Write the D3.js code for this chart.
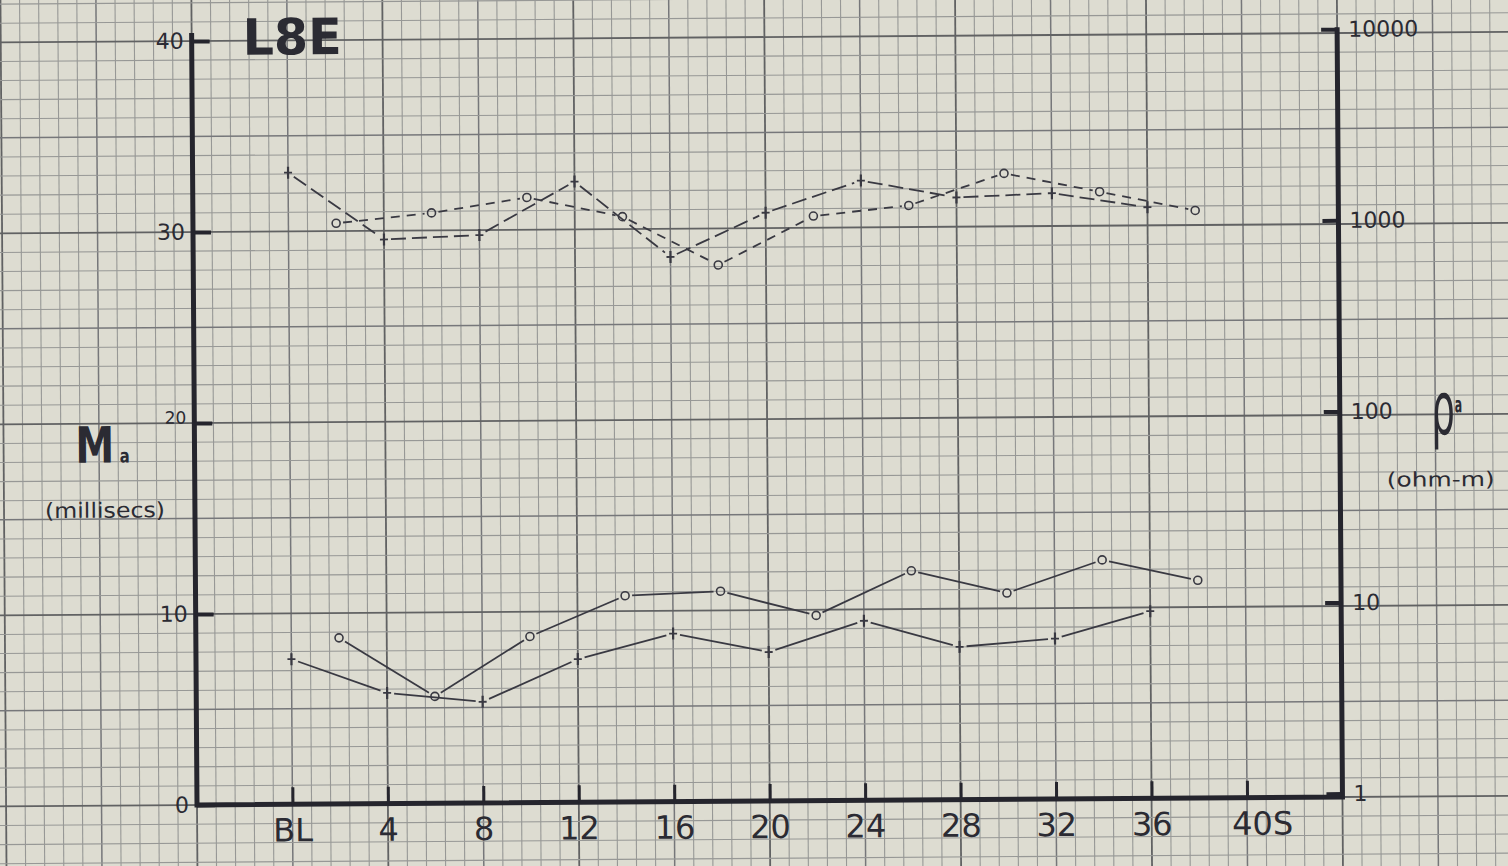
<!DOCTYPE html>
<html>
<head>
<meta charset="utf-8">
<script src="https://cdn.jsdelivr.net/npm/d3@7"></script>
<style>
  html, body { margin: 0; padding: 0; background: #dddcd1; }
  svg { display: block; }
  text { fill: #2b2b33; font-family: "DejaVu Sans", sans-serif; }
</style>
</head>
<body>
<svg id="chart" width="1508" height="866"></svg>
<script>
// Survey line L8E: apparent chargeability Ma (ms, linear, left) and
// apparent resistivity rho_a (ohm-m, log, right) along the line.
const xTickValues = [0, 4, 8, 12, 16, 20, 24, 28, 32, 36, 40];
const xTickLabels = ["BL", "4", "8", "12", "16", "20", "24", "28", "32", "36", "40S"];
const leftTicks = [0, 10, 20, 30, 40];
const rightTicks = [1, 10, 100, 1000, 10000];

// stations of the two readings ("+" and "o" symbols)
const plusStations = [0, 4, 8, 12, 16, 20, 24, 28, 32, 36];
const circleStations = [2, 6, 10, 14, 18, 22, 26, 30, 34, 38];

// apparent resistivity, ohm-m (dashed curves)
const rhoPlus = [1940, 860, 900, 1700, 680, 1150, 1680, 1360, 1420, 1190];
const rhoCircle = [1050, 1180, 1410, 1110, 615, 1100, 1240, 1810, 1440, 1140];

// apparent chargeability, ms (solid curves)
const maPlus = [7.6, 5.8, 5.3, 7.5, 8.8, 7.8, 9.4, 8.0, 8.4, 9.8];
const maCircle = [8.7, 5.6, 8.7, 10.8, 11.0, 9.7, 12.0, 10.8, 12.5, 11.4];

const svg = d3.select("#chart");
const W = 1508, H = 866;

svg.append("rect").attr("width", W).attr("height", H).attr("fill", "#dddcd1");

// the sheet sits very slightly askew
const sheet = svg.append("g").attr("transform", "rotate(-0.4,197,805)");

const x = d3.scaleLinear().domain([-4, 44]).range([197, 1342.5]);
const y = d3.scaleLinear().domain([0, 40]).range([805, 41]);
const yLog = d3.scaleLog().domain([1, 10000]).range([801.6, 37.2]);

// ---- graph paper: 1-unit squares, heavier every 5 and 10 ----
const unitX = 0.8; // one paper square in station units
const grid = sheet.append("g");
const gridColor = k => k % 10 === 0 ? "#616263" : k % 5 === 0 ? "#76777a" : "#979896";
const gridWidth = k => k % 10 === 0 ? 1.8 : k % 5 === 0 ? 1.5 : 1.1;
for (let k = -14; k <= 75; k++) {
  const xv = x(-4 + k * unitX);
  grid.append("line")
    .attr("x1", xv).attr("x2", xv).attr("y1", -60).attr("y2", H + 60)
    .attr("stroke", gridColor(k)).attr("stroke-width", gridWidth(k));
}
for (let k = -8; k <= 48; k++) {
  const yv = y(k);
  grid.append("line")
    .attr("x1", -60).attr("x2", W + 60).attr("y1", yv).attr("y2", yv)
    .attr("stroke", gridColor(k)).attr("stroke-width", gridWidth(k));
}

// ---- frame ----
sheet.append("path")
  .attr("d", `M${x(-4)},${y(40) - 8} L${x(-4)},${y(0)} L${x(44)},${y(0)} L${x(44)},${yLog(10000) - 2}`)
  .attr("fill", "none").attr("stroke", "#25252d").attr("stroke-width", 5)
  .attr("stroke-linejoin", "miter");

// left axis (Ma)
const axL = sheet.append("g").attr("transform", `translate(${x(-4)},0)`)
  .call(d3.axisLeft(y).tickValues(leftTicks).tickSize(-18).tickSizeOuter(0).tickPadding(8));
axL.select(".domain").remove();
axL.selectAll(".tick line").attr("stroke", "#25252d").attr("stroke-width", 4);
axL.selectAll(".tick text").attr("font-size", d => d === 20 ? 17 : 22)
  .attr("dy", d => d === 20 ? "0" : "0.32em")
  .attr("fill", "#2b2b33").attr("font-family", "DejaVu Sans");

// right axis (rho_a)
const axR = sheet.append("g").attr("transform", `translate(${x(44)},0)`)
  .call(d3.axisRight(yLog).tickValues(rightTicks).tickFormat(d3.format("d")).tickSize(-16).tickSizeOuter(0).tickPadding(11));
axR.select(".domain").remove();
axR.selectAll(".tick line").attr("stroke", "#25252d").attr("stroke-width", 4);
axR.selectAll(".tick text").attr("font-size", 22).attr("fill", "#2b2b33").attr("font-family", "DejaVu Sans");

// bottom axis (stations)
const axB = sheet.append("g").attr("transform", `translate(0,${y(0)})`)
  .call(d3.axisBottom(x).tickValues(xTickValues).tickFormat((d, i) => xTickLabels[i]).tickSize(-17).tickSizeOuter(0));
axB.select(".domain").remove();
axB.selectAll(".tick line").attr("stroke", "#25252d").attr("stroke-width", 3);
axB.selectAll(".tick text")
  .attr("font-size", 32).attr("fill", "#2b2b33").attr("font-family", "DejaVu Sans")
  .attr("y", 37).attr("dy", 0)
  .attr("dx", (d, i) => xTickLabels[i].length > 2 ? 15 : 0);

// ---- titles ----
sheet.append("text").text("L8E")
  .attr("x", 248).attr("y", 55).attr("font-size", 50).attr("font-weight", "bold")
  .attr("textLength", 99).attr("lengthAdjust", "spacingAndGlyphs");

// M with subscript a, drawn as one label
const mLabel = sheet.append("text")
  .attr("transform", "translate(78,462) scale(0.78,1)")
  .attr("font-weight", "bold");
mLabel.append("tspan").attr("font-size", 50).text("M");
mLabel.append("tspan").attr("font-size", 19).attr("dx", 7).text("a");

sheet.append("text").text("(millisecs)")
  .attr("x", 47).attr("y", 517).attr("font-size", 21)
  .attr("textLength", 120).attr("lengthAdjust", "spacingAndGlyphs");

// rho with subscript a
const rLabel = sheet.append("text")
  .attr("transform", "translate(1434,443) scale(0.5,1)");
rLabel.append("tspan").attr("font-size", 74).text("ρ");
rLabel.append("tspan").attr("font-size", 22).attr("font-weight", "bold")
  .attr("dx", 0).attr("dy", -22).text("a");

sheet.append("text").text("(ohm-m)")
  .attr("x", 1389).attr("y", 495).attr("font-size", 20)
  .attr("textLength", 108).attr("lengthAdjust", "spacingAndGlyphs");

// ---- data curves ----
const ink = "#393942";

function trimmedSegments(pts, gap) {
  const segs = [];
  for (let i = 0; i < pts.length - 1; i++) {
    const [x1, y1] = pts[i], [x2, y2] = pts[i + 1];
    const len = Math.hypot(x2 - x1, y2 - y1);
    const ux = (x2 - x1) / len, uy = (y2 - y1) / len;
    segs.push([[x1 + ux * gap, y1 + uy * gap], [x2 - ux * gap, y2 - uy * gap]]);
  }
  return segs;
}

function drawSeries(stations, values, scale, dash, marker) {
  const pts = stations.map((s, i) => [x(s), scale(values[i])]);
  const g = sheet.append("g");
  const line = d3.line();
  g.selectAll("path.seg").data(trimmedSegments(pts, 7)).join("path")
    .attr("class", "seg")
    .attr("d", d => line(d))
    .attr("fill", "none").attr("stroke", ink).attr("stroke-width", 1.8)
    .attr("stroke-dasharray", dash);
  if (marker === "o") {
    g.selectAll("circle").data(pts).join("circle")
      .attr("cx", d => d[0]).attr("cy", d => d[1]).attr("r", 4)
      .attr("fill", "none").attr("stroke", ink).attr("stroke-width", 1.6);
  } else {
    const m = g.selectAll("g.plus").data(pts).join("g").attr("class", "plus")
      .attr("transform", d => `translate(${d[0]},${d[1]})`);
    m.append("line").attr("x1", 0).attr("x2", 0).attr("y1", -6).attr("y2", 6)
      .attr("stroke", ink).attr("stroke-width", 2.2);
    m.append("line").attr("x1", -4).attr("x2", 4).attr("y1", 0).attr("y2", 0)
      .attr("stroke", ink).attr("stroke-width", 1.8);
  }
}

drawSeries(plusStations, rhoPlus, yLog, "15,6", "+");
drawSeries(circleStations, rhoCircle, yLog, "9,7", "o");
drawSeries(plusStations, maPlus, y, null, "+");
drawSeries(circleStations, maCircle, y, null, "o");
</script>
</body>
</html>
